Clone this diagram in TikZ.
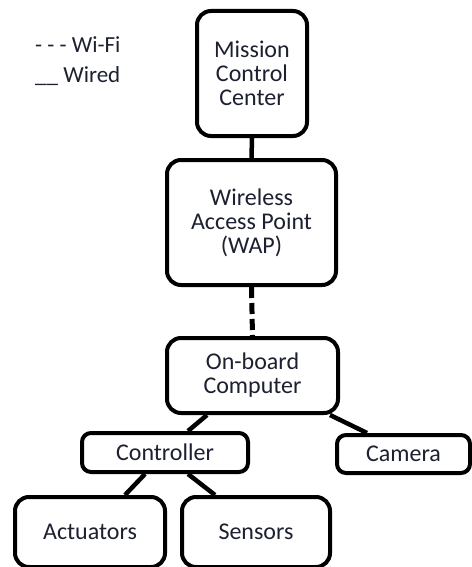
\documentclass[tikz,border=0pt]{standalone}
\usepackage{fontspec}
\setmainfont{Carlito}
\definecolor{inktext}{RGB}{28,32,48}
\begin{document}
\begin{tikzpicture}[x=1pt,y=-1pt,
  box/.style={draw=black,line width=4pt,rounded corners=14pt,fill=white,
    inner sep=0pt,align=center,text=inktext,
    font=\fontsize{24}{24}\selectfont},
  smallbox/.style={box,rounded corners=9pt},
  wire/.style={line width=4.5pt,draw=black},
  wifi/.style={line width=5pt,draw=black,dash pattern=on 11pt off 5pt},
  legend/.style={anchor=base west,inner sep=0pt,text=inktext,
    font=\fontsize{23}{24}\selectfont}]
\useasboundingbox (0,0) rectangle (471,567);

% legend
\node[legend] (lwifi) at (35,53) {- - - Wi-Fi};
\node[legend] (lwired) at (35,83) {\_\_ Wired};

% boxes
\node[box,minimum width=110pt,minimum height=125pt] (mcc) at (252,73.5) {Mission\\Control\\Center};
\node[box,minimum width=169pt,minimum height=125pt] (wap) at (251.5,222.5) {Wireless\\Access Point\\(WAP)};
\node[box,minimum width=171pt,minimum height=75pt] (obc) at (252.5,375.5) {On-board\\Computer};
\node[smallbox,minimum width=166pt,minimum height=39pt] (ctrl) at (165,452.5) {Controller};
\node[smallbox,minimum width=133pt,minimum height=38pt] (cam) at (403.5,454) {Camera};
\node[box,minimum width=150pt,minimum height=70pt] (act) at (90,532) {Actuators};
\node[box,minimum width=148pt,minimum height=70pt] (sens) at (256,532) {Sensors};

% connectors
\draw[wire] (mcc.south) -- (wap.north);
\draw[wifi] (wap.south) -- (obc.north);
\draw[wire] ([xshift=-45.5pt]obc.south) -- ([xshift=23pt]ctrl.north);
\draw[wire] ([xshift=77.5pt]obc.south) -- ([xshift=-36.5pt]cam.north);
\draw[wire] ([xshift=-20pt]ctrl.south) -- ([xshift=35pt]act.north);
\draw[wire] ([xshift=23pt]ctrl.south) -- ([xshift=-41pt]sens.north);
\end{tikzpicture}
\end{document}
